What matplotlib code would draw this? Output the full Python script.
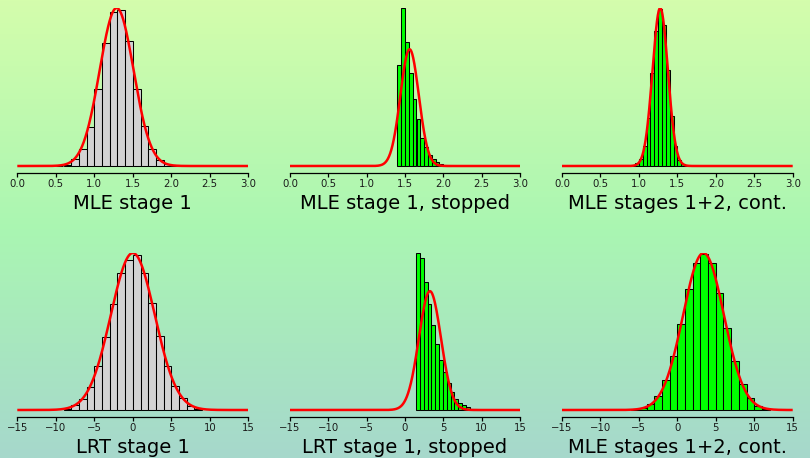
import numpy as np
import matplotlib
matplotlib.use("Agg")
import matplotlib.pyplot as plt

# ---- data (histogram densities + fitted normal) ----
titles = ["MLE stage 1", "MLE stage 1, stopped", "MLE stages 1+2, cont.",
          "LRT stage 1", "LRT stage 1, stopped", "MLE stages 1+2, cont."]

mle_ticks = [0.0, 0.5, 1.0, 1.5, 2.0, 2.5, 3.0]
mle_ticklabels = ["0.0", "0.5", "1.0", "1.5", "2.0", "2.5", "3.0"]
lrt_ticks = [-15, -10, -5, 0, 5, 10, 15]
lrt_ticklabels = ["\u221215", "\u221210", "\u22125", "0", "5", "10", "15"]

# MLE stage 1
mle1_start, mle1_width = 0.5, 0.1
mle1_dens = [0.004, 0.015, 0.076, 0.191, 0.45, 0.889, 1.416, 1.767,
             1.794, 1.435, 0.889, 0.462, 0.191, 0.069, 0.023, 0.008]
mle1_mean, mle1_sd = 1.29, 0.22

# MLE stage 1, stopped
mle1s_start, mle1s_width = 1.40, 0.05
mle1s_dens = [2.87, 4.50, 3.53, 2.65, 1.92, 1.33, 0.81, 0.54,
              0.32, 0.19, 0.10, 0.06, 0.03, 0.01]
mle1s_mean, mle1s_sd = 1.56, 0.12

# MLE stages 1+2, continued
mle12_start, mle12_width = 0.90, 0.05
mle12_dens = [0.008, 0.068, 0.169, 0.508, 1.211, 2.338, 3.413, 3.964,
              3.557, 2.414, 1.271, 0.508, 0.152, 0.051, 0.008]
mle12_mean, mle12_sd = 1.277, 0.10

# LRT stage 1
lrt1_start, lrt1_width = -9, 1
lrt1_dens = [0.0006, 0.0041, 0.0097, 0.0208, 0.039, 0.0655, 0.0948, 0.1218,
             0.1335, 0.1379, 0.1218, 0.0954, 0.066, 0.0396, 0.0217, 0.0103,
             0.0038, 0.0009]
lrt1_mean, lrt1_sd = 0.0, 2.85

# LRT stage 1, stopped
lrt1s_start, lrt1s_width = 1.45, 0.5
lrt1s_dens = [0.366, 0.355, 0.298, 0.248, 0.197, 0.155, 0.116, 0.088, 0.062,
              0.042, 0.026, 0.017, 0.011, 0.006, 0.003, 0.002, 0.001, 0.001]
lrt1s_mean, lrt1s_sd = 3.25, 1.44

# stages 1+2, continued (bottom right)
lrt12_start, lrt12_width = -6, 1
lrt12_dens = [0.0006, 0.0022, 0.006, 0.0139, 0.0292, 0.0514, 0.0821, 0.1157,
              0.1407, 0.1496, 0.1407, 0.1122, 0.0789, 0.0466, 0.025, 0.0111,
              0.0038, 0.001]
lrt12_mean, lrt12_sd = 3.4, 2.65

panels = [
    (mle1_start, mle1_width, mle1_dens, mle1_mean, mle1_sd, "#d3d3d3", "mle"),
    (mle1s_start, mle1s_width, mle1s_dens, mle1s_mean, mle1s_sd, "#00ff00", "mle"),
    (mle12_start, mle12_width, mle12_dens, mle12_mean, mle12_sd, "#00ff00", "mle"),
    (lrt1_start, lrt1_width, lrt1_dens, lrt1_mean, lrt1_sd, "#d3d3d3", "lrt"),
    (lrt1s_start, lrt1s_width, lrt1s_dens, lrt1s_mean, lrt1s_sd, "#00ff00", "lrt"),
    (lrt12_start, lrt12_width, lrt12_dens, lrt12_mean, lrt12_sd, "#00ff00", "lrt"),
]

# ---- figure ----
W, H = 810, 458
fig = plt.figure(figsize=(W / 100, H / 100), dpi=100)

# background gradient
bg = fig.add_axes([0, 0, 1, 1], zorder=-10)
top_c = np.array([212, 253, 172]) / 255
mid_c = np.array([170, 246, 178]) / 255
bot_c = np.array([166, 216, 204]) / 255
t = np.linspace(0, 1, 256)[:, None]
grad = np.where(t < 0.5,
                top_c + (mid_c - top_c) * (t / 0.5),
                mid_c + (bot_c - mid_c) * ((t - 0.5) / 0.5))
bg.imshow(grad[:, None, :], aspect="auto", extent=[0, 1, 0, 1], origin="upper")
bg.axis("off")

col_x = [(17.3, 248.3), (290.0, 520.0), (562.0, 792.7)]
row_y = [(8.0, 166.0, 173.0), (253.0, 410.0, 417.0)]  # top, baseline, axis (pixels)
label_off = -36.0  # xlabel baseline below the axis line, pixels

for i, (start, width, dens, mu, sd, fill, kind) in enumerate(panels):
    r, c = divmod(i, 3)
    x0, x1 = col_x[c]
    ytop, ybase, yaxis = row_y[r]
    ax = fig.add_axes([x0 / W, (H - yaxis) / H, (x1 - x0) / W, (yaxis - ytop) / H])
    ax.set_facecolor("none")

    if kind == "mle":
        lo, hi, ticks, labels = 0.0, 3.0, mle_ticks, mle_ticklabels
    else:
        lo, hi, ticks, labels = -15, 15, lrt_ticks, lrt_ticklabels

    lefts = start + width * np.arange(len(dens))
    ax.bar(lefts, dens, width=width, align="edge", color=fill,
           edgecolor="black", linewidth=0.75, zorder=2)

    xs = np.linspace(lo, hi, 800)
    ys = np.exp(-0.5 * ((xs - mu) / sd) ** 2) / (sd * np.sqrt(2 * np.pi))
    ax.plot(xs, ys, color="#ff0000", lw=1.8, zorder=3, solid_capstyle="butt")

    ymax = max(max(dens), ys.max())
    ax.set_ylim(-ymax * (yaxis - ybase) / (ybase - ytop), ymax)
    ax.set_xlim(lo, hi)

    for s in ["top", "right", "left"]:
        ax.spines[s].set_visible(False)
    ax.spines["bottom"].set_linewidth(0.9)
    ax.set_yticks([])
    ax.set_xticks(ticks)
    ax.set_xticklabels(labels, fontsize=7.3, color="#1a1a1a")
    ax.tick_params(axis="x", length=3.0, width=0.9, pad=1.2)

    ax.annotate(titles[i], xy=(0.5, 0), xycoords="axes fraction",
                xytext=(0, label_off), textcoords="offset pixels",
                ha="center", va="baseline", fontsize=14, color="black",
                annotation_clip=False)

fig.savefig("out.png", dpi=100)
